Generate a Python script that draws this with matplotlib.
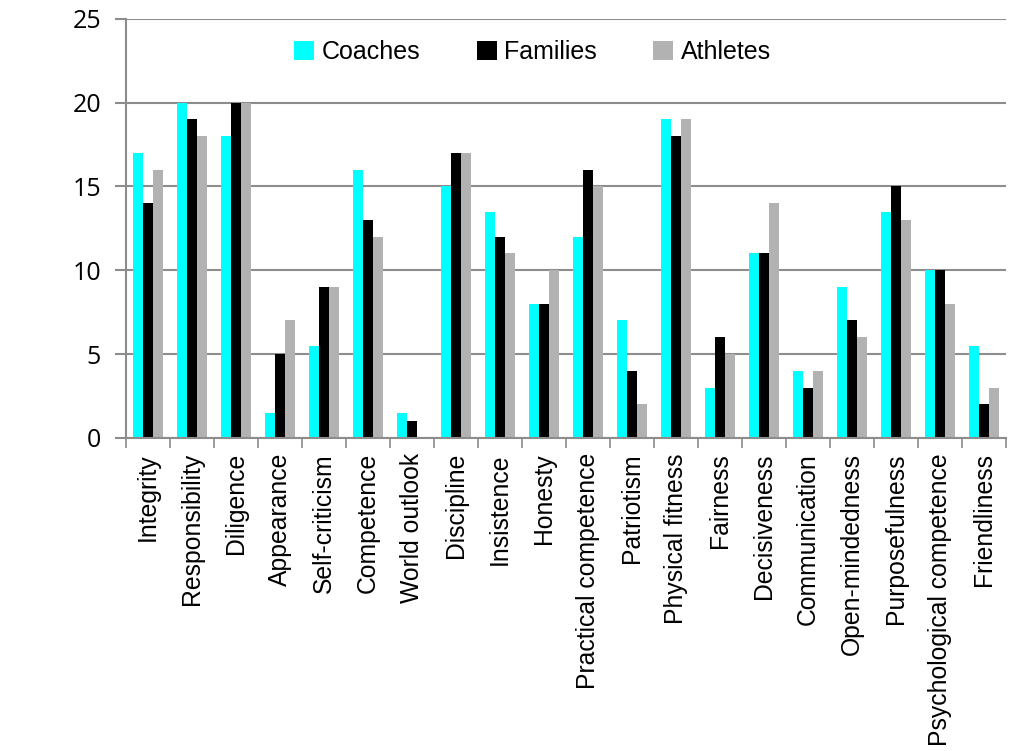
import matplotlib.pyplot as plt
import numpy as np

categories = ['Integrity', 'Responsibility', 'Diligence', 'Appearance', 'Self-criticism',
              'Competence', 'World outlook', 'Discipline', 'Insistence', 'Honesty',
              'Practical competence', 'Patriotism', 'Physical fitness', 'Fairness',
              'Decisiveness', 'Communication', 'Open-mindedness', 'Purposefulness',
              'Psychological competence', 'Friendliness']
coaches = [17, 20, 18, 1.5, 5.5, 16, 1.5, 15, 13.5, 8, 12, 7, 19, 3, 11, 4, 9, 13.5, 10, 5.5]
families = [14, 19, 20, 5, 9, 13, 1, 17, 12, 8, 16, 4, 18, 6, 11, 3, 7, 15, 10, 2]
athletes = [16, 18, 20, 7, 9, 12, 0, 17, 11, 10, 15, 2, 19, 5, 14, 4, 6, 13, 8, 3]

fig = plt.figure(figsize=(10.16, 7.51), dpi=100)
ax = fig.add_axes([0.124, 0.417, 0.866, 0.558])

x = np.arange(len(categories))
w = 0.225
ax.bar(x - w, coaches, w, color='#00ffff', label='Coaches')
ax.bar(x, families, w, color='#000000', label='Families')
ax.bar(x + w, athletes, w, color='#b2b2b2', label='Athletes')

ax.set_xlim(-0.5, len(categories) - 0.5)
ax.set_ylim(0, 25)
ax.set_yticks([0, 5, 10, 15, 20, 25])
ax.yaxis.grid(True, color='#8c8c8c', linewidth=1.5)
ax.set_axisbelow(True)

for s in ['top', 'right']:
    ax.spines[s].set_visible(False)
for s in ['left', 'bottom']:
    ax.spines[s].set_color('#8c8c8c')
    ax.spines[s].set_linewidth(1.5)

ax.set_xticks(x)
ax.set_xticklabels(categories, rotation=90, fontsize=17.8, family='Liberation Sans', va='top')
ax.tick_params(axis='x', length=0, pad=11)
ax.set_xticks(np.arange(-0.5, len(categories)), minor=True)
ax.tick_params(axis='x', which='minor', length=7, color='#8c8c8c', width=1.2)
ax.tick_params(axis='y', length=8, color='#8c8c8c', width=1.5, labelsize=18, pad=10)
for t in ax.get_yticklabels():
    t.set_family('Open Sans')

ax.legend(loc='upper center', bbox_to_anchor=(0.462, 1.002), ncol=3, frameon=False,
          prop={'family': 'Liberation Sans', 'size': 18}, handlelength=0.8, handleheight=0.8,
          columnspacing=2.25, handletextpad=0.3)

fig.savefig('out.png', dpi=100)
